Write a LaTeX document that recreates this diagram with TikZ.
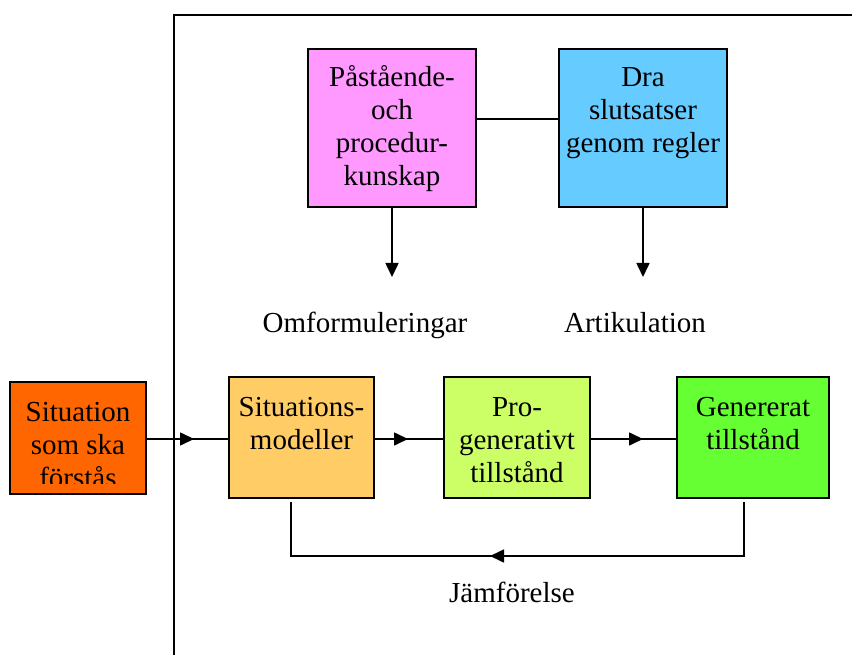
\documentclass[tikz,border=0pt]{standalone}
\usepackage{fontspec}
\setmainfont{Liberation Serif}
\usetikzlibrary{arrows.meta,decorations.markings}

\definecolor{pinkbox}{HTML}{FF99FF}
\definecolor{bluebox}{HTML}{66CCFF}
\definecolor{orangebox}{HTML}{FF6600}
\definecolor{sandbox}{HTML}{FFCC66}
\definecolor{limebox}{HTML}{CCFF66}
\definecolor{greenbox}{HTML}{66FF33}

% multi-line labels are anchored at the baseline of their last line
\tikzset{
  box/.style={draw=black, line width=1.8pt, inner sep=0pt, outer sep=0pt, anchor=north west},
  boxtext/.style={align=center, anchor=base, inner sep=0pt,
    font=\fontsize{29}{33}\selectfont},
  plaintext/.style={anchor=base, inner sep=0pt, font=\fontsize{29}{33}\selectfont},
  conn/.style={draw=black, line width=1.6pt},
  tip/.style={-{Triangle[length=14pt,width=13pt]}},
  midtip/.style={postaction={decorate, decoration={markings,
    mark=at position #1 with {\arrow{Triangle[length=14pt,width=13pt]}}}}}
}

\begin{document}
\begin{tikzpicture}[x=1pt, y=-1pt]
  \useasboundingbox (0,0) rectangle (852,655);

  % outer frame
  \coordinate (fb) at (174,655);
  \coordinate (ftl) at (174,15);
  \coordinate (ftr) at (852,15);
  \draw[line width=2.6pt] (fb) -- (ftl) -- (ftr);

  % upper boxes
  \node[box, fill=pinkbox, minimum width=168pt, minimum height=158pt] (pink) at (308,49) {};
  \node[boxtext] (pinkt) at (392,186) {Påstående-\\och\\procedur-\\kunskap};
  \node[box, fill=bluebox, minimum width=168pt, minimum height=158pt] (blue) at (559,49) {};
  \node[boxtext] (bluet) at (643,153) {Dra\\slutsatser\\genom regler};

  \draw[conn] (pink.east |- 0,119) -- (blue.west |- 0,119);

  \coordinate (pinkend) at (392,277);
  \coordinate (blueend) at (643,277);
  \draw[conn, tip] (pink.south) -- (pink.south |- pinkend);
  \draw[conn, tip] (blue.south) -- (blue.south |- blueend);

  \node[plaintext] (omf) at (365,332) {Omformuleringar};
  \node[plaintext] (art) at (635,332) {Artikulation};

  % lower row
  \node[box, fill=orangebox, minimum width=136pt, minimum height=112pt] (orange) at (10,382) {};
  \begin{scope}
    \clip (11,383) rectangle (145,483);
    \node[boxtext] (oranget) at (78,487) {Situation\\som ska\\förstås};
  \end{scope}

  \node[box, fill=sandbox, minimum width=145pt, minimum height=121pt] (sit) at (229,377) {};
  \node[boxtext] (sitt) at (301.5,449) {Situations-\\modeller};
  \node[box, fill=limebox, minimum width=146pt, minimum height=121pt] (pro) at (444,377) {};
  \node[boxtext] (prot) at (517,482) {Pro-\\generativt\\tillstånd};
  \node[box, fill=greenbox, minimum width=152pt, minimum height=121pt] (gen) at (677,377) {};
  \node[boxtext] (gent) at (753,449) {Genererat\\tillstånd};

  \draw[conn, midtip=48pt] (orange.east |- 0,439) -- (sit.west |- 0,439);
  \draw[conn, midtip=34pt] (sit.east |- 0,439) -- (pro.west |- 0,439);
  \draw[conn, midtip=53pt] (pro.east |- 0,439) -- (gen.west |- 0,439);

  % comparison loop
  \coordinate (loopr) at ([xshift=-9pt, yshift=-4pt]gen.south);
  \coordinate (loopl) at ([xshift=-10.5pt, yshift=-4pt]sit.south);
  \draw[conn, midtip=308pt] (loopr) -- ++(0,54) -| (loopl);

  \node[plaintext] (jam) at (512,602) {Jämförelse};
\end{tikzpicture}
\end{document}
